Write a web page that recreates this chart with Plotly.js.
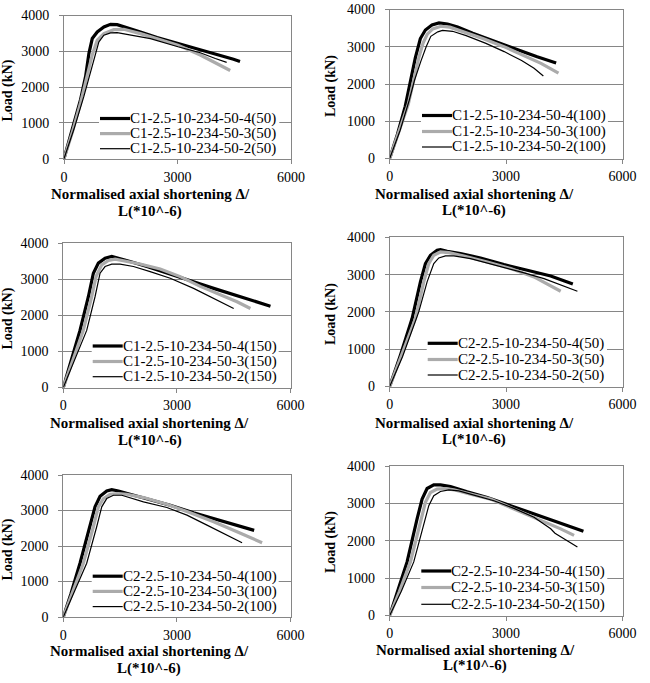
<!DOCTYPE html>
<html>
<head>
<meta charset="utf-8">
<script src="https://cdn.plot.ly/plotly-3.0.1.min.js"></script>
<style>
  html, body { margin: 0; padding: 0; background: #fff; }
  #chart { width: 650px; height: 683px; }
</style>
</head>
<body>
<div id="chart"></div>
<script>
// ---- Load vs normalised axial shortening, six specimen groups ----

// Legend names per panel
const names_C1_50  = ['C1-2.5-10-234-50-4(50)',  'C1-2.5-10-234-50-3(50)',  'C1-2.5-10-234-50-2(50)'];
const names_C1_100 = ['C1-2.5-10-234-50-4(100)', 'C1-2.5-10-234-50-3(100)', 'C1-2.5-10-234-50-2(100)'];
const names_C1_150 = ['C1-2.5-10-234-50-4(150)', 'C1-2.5-10-234-50-3(150)', 'C1-2.5-10-234-50-2(150)'];
const names_C2_50  = ['C2-2.5-10-234-50-4(50)',  'C2-2.5-10-234-50-3(50)',  'C2-2.5-10-234-50-2(50)'];
const names_C2_100 = ['C2-2.5-10-234-50-4(100)', 'C2-2.5-10-234-50-3(100)', 'C2-2.5-10-234-50-2(100)'];
const names_C2_150 = ['C2-2.5-10-234-50-4(150)', 'C2-2.5-10-234-50-3(150)', 'C2-2.5-10-234-50-2(150)'];

// Axis ticks
const xTicks = [0, 3000, 6000];
const yTicks = [0, 1000, 2000, 3000, 4000];

// C1 (50)
const x_C1_50_4 = [0, 281, 439, 571, 659, 747, 879, 1054, 1230, 1406, 1669, 2021, 2460, 3013, 3602, 4129, 4480, 4652];
const y_C1_50_4 = [0, 1011, 1655, 2299, 2943, 3356, 3540, 3678, 3752, 3743, 3660, 3540, 3384, 3218, 3053, 2897, 2777, 2716];
const x_C1_50_3 = [0, 220, 439, 615, 747, 879, 1054, 1318, 1581, 2021, 2548, 3013, 3602, 4041, 4393];
const y_C1_50_3 = [0, 736, 1563, 2299, 2897, 3310, 3494, 3605, 3614, 3494, 3329, 3172, 2897, 2667, 2464];
const x_C1_50_2 = [0, 264, 527, 747, 922, 1054, 1230, 1406, 1845, 2284, 3013, 3602, 4000, 4300];
const y_C1_50_2 = [0, 828, 1747, 2575, 3264, 3448, 3513, 3522, 3448, 3356, 3126, 2961, 2800, 2690];

// C1 (100)
const x_C1_100_4 = [0, 200, 400, 560, 660, 790, 920, 1090, 1270, 1490, 1750, 2140, 2650, 3150, 3800, 4290];
const y_C1_100_4 = [0, 650, 1400, 2200, 2700, 3220, 3450, 3585, 3640, 3610, 3530, 3360, 3160, 2980, 2730, 2565];
const x_C1_100_3 = [0, 240, 480, 640, 750, 860, 970, 1110, 1320, 1550, 1880, 2400, 2930, 3430, 3900, 4350];
const y_C1_100_3 = [0, 700, 1460, 2200, 2700, 3100, 3340, 3480, 3550, 3525, 3415, 3220, 3010, 2780, 2555, 2290];
const x_C1_100_2 = [0, 270, 500, 640, 800, 940, 1060, 1240, 1360, 1620, 1970, 2480, 2950, 3400, 3720, 3960];
const y_C1_100_2 = [0, 760, 1550, 2100, 2600, 3000, 3280, 3400, 3440, 3415, 3300, 3090, 2870, 2630, 2420, 2215];

// C1 (150)
const x_C1_150_4 = [0, 180, 441, 662, 794, 926, 1103, 1279, 1456, 1765, 2206, 2824, 3441, 3971, 4500, 5029, 5471];
const y_C1_150_4 = [0, 640, 1581, 2512, 3163, 3442, 3581, 3628, 3581, 3488, 3349, 3150, 2930, 2744, 2577, 2391, 2251];
const x_C1_150_3 = [0, 240, 529, 750, 865, 1015, 1191, 1368, 1588, 2029, 2559, 3088, 3618, 4147, 4588, 4941];
const y_C1_150_3 = [0, 700, 1581, 2512, 3070, 3395, 3516, 3553, 3516, 3420, 3280, 3070, 2800, 2558, 2372, 2186];
const x_C1_150_2 = [0, 290, 618, 838, 971, 1103, 1279, 1500, 1853, 2294, 2824, 3441, 3882, 4235, 4500];
const y_C1_150_2 = [0, 750, 1581, 2512, 3163, 3349, 3414, 3414, 3349, 3209, 3023, 2744, 2512, 2326, 2186];

// C2 (50)
const x_C2_50_4 = [0, 280, 577, 792, 921, 1050, 1222, 1308, 1481, 1825, 2341, 2944, 3547, 4149, 4720];
const y_C2_50_4 = [0, 850, 1821, 2804, 3295, 3518, 3652, 3670, 3625, 3563, 3446, 3268, 3116, 2964, 2750];
const x_C2_50_3 = [0, 300, 663, 878, 1007, 1136, 1308, 1524, 1911, 2514, 3116, 3719, 4407];
const y_C2_50_3 = [0, 850, 1821, 2804, 3295, 3518, 3607, 3589, 3500, 3339, 3161, 2938, 2554];
const x_C2_50_2 = [0, 330, 749, 964, 1136, 1265, 1438, 1653, 2083, 2686, 3374, 3977, 4407, 4838];
const y_C2_50_2 = [0, 800, 2000, 2804, 3295, 3446, 3500, 3500, 3429, 3268, 3071, 2893, 2732, 2554];

// C2 (100)
const x_C2_100_4 = [0, 200, 441, 706, 838, 971, 1147, 1279, 1456, 1765, 2206, 2824, 3441, 3971, 4500, 5040];
const y_C2_100_4 = [0, 650, 1514, 2542, 3103, 3402, 3551, 3589, 3551, 3458, 3336, 3150, 2935, 2776, 2617, 2440];
const x_C2_100_3 = [0, 240, 529, 794, 926, 1059, 1235, 1456, 1676, 2118, 2735, 3353, 3971, 4588, 5250];
const y_C2_100_3 = [0, 700, 1514, 2542, 3103, 3336, 3458, 3477, 3458, 3364, 3178, 2935, 2682, 2402, 2093];
const x_C2_100_2 = [0, 290, 618, 882, 1015, 1147, 1324, 1544, 1765, 2118, 2735, 3265, 3794, 4324, 4721];
const y_C2_100_2 = [0, 720, 1514, 2542, 3103, 3336, 3430, 3430, 3364, 3243, 3084, 2869, 2589, 2308, 2093];

// C2 (150)
const x_C2_150_4 = [0, 200, 448, 706, 835, 964, 1136, 1308, 1567, 1997, 2514, 3116, 3719, 4321, 4993];
const y_C2_150_4 = [0, 620, 1434, 2584, 3115, 3398, 3496, 3496, 3451, 3310, 3159, 2938, 2717, 2496, 2257];
const x_C2_150_3 = [0, 250, 534, 792, 921, 1050, 1222, 1438, 1653, 2083, 2600, 3202, 3805, 4407, 4752];
const y_C2_150_3 = [0, 640, 1434, 2496, 3027, 3292, 3381, 3398, 3363, 3248, 3115, 2850, 2584, 2319, 2142];
const x_C2_150_2 = [0, 300, 620, 878, 1007, 1136, 1308, 1524, 1782, 2169, 2686, 3202, 3719, 4150, 4260, 4838];
const y_C2_150_2 = [0, 650, 1434, 2407, 2938, 3204, 3319, 3363, 3336, 3221, 3071, 2867, 2628, 2320, 2200, 1832];

const xTitleLines = ['Normalised axial shortening \u0394/', 'L(*10^-6)'];
const yTitle = 'Load (kN)';

// ---- panel assembly ----
const panels = [
  { names: names_C1_50,  xs: [x_C1_50_4,  x_C1_50_3,  x_C1_50_2],  ys: [y_C1_50_4,  y_C1_50_3,  y_C1_50_2] },
  { names: names_C1_100, xs: [x_C1_100_4, x_C1_100_3, x_C1_100_2], ys: [y_C1_100_4, y_C1_100_3, y_C1_100_2] },
  { names: names_C1_150, xs: [x_C1_150_4, x_C1_150_3, x_C1_150_2], ys: [y_C1_150_4, y_C1_150_3, y_C1_150_2] },
  { names: names_C2_50,  xs: [x_C2_50_4,  x_C2_50_3,  x_C2_50_2],  ys: [y_C2_50_4,  y_C2_50_3,  y_C2_50_2] },
  { names: names_C2_100, xs: [x_C2_100_4, x_C2_100_3, x_C2_100_2], ys: [y_C2_100_4, y_C2_100_3, y_C2_100_2] },
  { names: names_C2_150, xs: [x_C2_150_4, x_C2_150_3, x_C2_150_2], ys: [y_C2_150_4, y_C2_150_3, y_C2_150_2] },
];

// Page geometry in pixels (plot frame, title anchors, legend block)
const W = 650, H = 683;
const fx = p => p / W;
const fy = p => 1 - p / H;
const frames = [
  { l: 64,    r: 291,   t: 15.5,  b: 158.7, yt: [7.5, 91],  xt: [150, 194, 211],     lg: { x: 100,   rows: [118.5, 133.6, 148.7] } },
  { l: 389.7, r: 622.5, t: 9.5,   b: 158.5, yt: [331, 86],  xt: [474, 193.5, 210],   lg: { x: 422,   rows: [115.5, 131.5, 147] } },
  { l: 63.3,  r: 290.5, t: 243,   b: 387.5, yt: [7.5, 319], xt: [149.5, 423, 440],   lg: { x: 92.7,  rows: [346, 361.5, 376.7] } },
  { l: 389.7, r: 622.5, t: 237.3, b: 386.5, yt: [331, 314], xt: [474, 422.5, 439],   lg: { x: 427.7, rows: [343.3, 359.5, 375] } },
  { l: 63.3,  r: 290.5, t: 475,   b: 617,   yt: [7.5, 550], xt: [149, 651, 668],     lg: { x: 92.7,  rows: [576.2, 591.4, 606.6] } },
  { l: 389.7, r: 622.5, t: 466,   b: 615.5, yt: [331, 542], xt: [475, 649.5, 665.5], lg: { x: 421.3, rows: [571, 587.5, 604.3] } },
];

// Series styles: -4 thick black, -3 thick grey, -2 thin black
const styles = [
  { color: '#000000', width: 3.2 },
  { color: '#ababab', width: 3.2 },
  { color: '#000000', width: 1.2 },
];

const serif = 'Liberation Serif';
const frameColor = '#868686';

const data = [];
const layout = {
  width: W, height: H,
  margin: { l: 0, r: 0, t: 0, b: 0 },
  paper_bgcolor: '#ffffff',
  plot_bgcolor: '#ffffff',
  showlegend: false,
  font: { family: serif, color: '#000' },
  shapes: [],
  annotations: [],
};

panels.forEach((p, i) => {
  const k = i + 1;
  const xa = k === 1 ? 'x' : 'x' + k;
  const ya = k === 1 ? 'y' : 'y' + k;
  const f = frames[i];

  p.xs.forEach((xv, s) => {
    data.push({
      type: 'scatter', mode: 'lines',
      x: xv, y: p.ys[s], name: p.names[s],
      xaxis: xa, yaxis: ya,
      line: { color: styles[s].color, width: styles[s].width },
      hoverinfo: 'skip',
    });
  });

  layout['xaxis' + (k === 1 ? '' : k)] = {
    domain: [fx(f.l), fx(f.r)], anchor: ya,
    range: [0, 6000], tickvals: xTicks, ticktext: xTicks.map(String),
    showgrid: false, zeroline: false,
    showline: true, mirror: true, linecolor: frameColor, linewidth: 1,
    ticks: 'outside', ticklen: 4, tickcolor: frameColor,
    ticklabelstandoff: 1,
    tickfont: { family: serif, size: 14, color: '#000' },
    fixedrange: true,
  };
  layout['yaxis' + (k === 1 ? '' : k)] = {
    domain: [fy(f.b), fy(f.t)], anchor: xa,
    range: [0, 4000], tickvals: yTicks, ticktext: yTicks.map(String),
    showgrid: true, gridcolor: frameColor, gridwidth: 1, zeroline: false,
    showline: true, mirror: true, linecolor: frameColor, linewidth: 1,
    ticks: 'outside', ticklen: 4, tickcolor: frameColor,
    ticklabelstandoff: 7,
    tickfont: { family: serif, size: 14, color: '#000' },
    fixedrange: true,
  };

  // axis titles
  layout.annotations.push({
    xref: 'paper', yref: 'paper', x: fx(f.yt[0]), y: fy(f.yt[1]),
    xanchor: 'center', yanchor: 'middle', textangle: -90, showarrow: false,
    text: '<b>' + yTitle + '</b>', font: { family: serif, size: 14, color: '#000' },
  });
  xTitleLines.forEach((line, j) => {
    layout.annotations.push({
      xref: 'paper', yref: 'paper', x: fx(f.xt[0]), y: fy(f.xt[1 + j]),
      xanchor: 'center', yanchor: 'middle', showarrow: false, borderpad: 0,
      text: '<b>' + line + '</b>', font: { family: serif, size: 15, color: '#000' },
    });
  });

  // legend block: white backing, line samples, names
  const lg = f.lg;
  const textStart = lg.x + 31;
  const longest = Math.max(...p.names.map(n => n.length));
  layout.shapes.push({
    type: 'rect', xref: 'paper', yref: 'paper',
    x0: fx(lg.x - 1), x1: fx(textStart + longest * 6.65 + 2),
    y0: fy(lg.rows[2] + 8), y1: fy(lg.rows[0] - 8),
    fillcolor: '#ffffff', line: { width: 0 }, layer: 'above',
  });
  p.names.forEach((n, s) => {
    layout.shapes.push({
      type: 'line', xref: 'paper', yref: 'paper',
      x0: fx(lg.x), x1: fx(lg.x + 30), y0: fy(lg.rows[s]), y1: fy(lg.rows[s]),
      line: { color: styles[s].color, width: styles[s].width }, layer: 'above',
    });
    layout.annotations.push({
      xref: 'paper', yref: 'paper', x: fx(textStart - 2), y: fy(lg.rows[s]),
      xanchor: 'left', yanchor: 'middle', showarrow: false, borderpad: 0,
      text: n, font: { family: serif, size: 15, color: '#000' },
    });
  });
});

Plotly.newPlot('chart', data, layout, { displayModeBar: false, staticPlot: true });
</script>
</body>
</html>
